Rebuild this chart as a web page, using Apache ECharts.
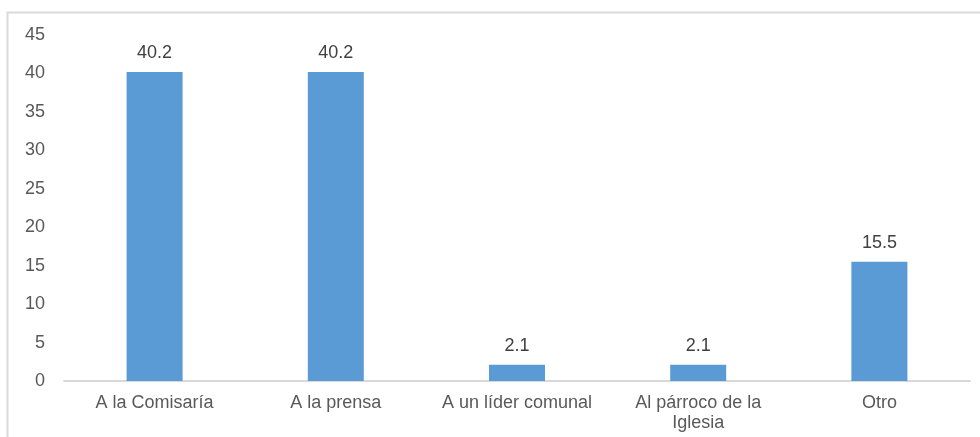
<!DOCTYPE html>
<html>
<head>
<meta charset="utf-8">
<script src="https://cdn.jsdelivr.net/npm/echarts@6/dist/echarts.min.js"></script>
<style>
  html, body { margin: 0; padding: 0; background: #fff; }
  #chart { width: 980px; height: 437px; }
</style>
</head>
<body>
<div id="chart"></div>
<script>
// datos del gráfico
const categories = ['A la Comisaría', 'A la prensa', 'A un líder comunal', 'Al párroco de la\nIglesia', 'Otro'];
const values = [40.2, 40.2, 2.1, 2.1, 15.5];
const yMin = 0;
const yMax = 45;
const yStep = 5;

const chart = echarts.init(document.getElementById('chart'));
const font = 'Liberation Sans, Arial, sans-serif';

const option = {
    animation: false,
    graphic: [
        {
            type: 'rect',
            shape: { x: 7.5, y: 12.5, width: 990, height: 450 },
            style: { fill: 'none', stroke: '#d9d9d9', lineWidth: 2 },
            silent: true
        }
    ],
    grid: {
        left: 64,
        right: 10,
        top: 35,
        bottom: 56
    },
    xAxis: {
        type: 'category',
        data: categories,
        axisLine: {
            show: true,
            lineStyle: { color: '#d9d9d9', width: 2 }
        },
        axisTick: { show: false },
        axisLabel: {
            interval: 0,
            margin: 12,
            color: '#595959',
            fontFamily: font,
            fontSize: 18,
            lineHeight: 20
        }
    },
    yAxis: {
        type: 'value',
        min: yMin,
        max: yMax,
        interval: yStep,
        axisLine: { show: false },
        axisTick: { show: false },
        splitLine: { show: false },
        axisLabel: {
            margin: 19,
            color: '#595959',
            fontFamily: font,
            fontSize: 18
        }
    },
    series: [
        {
            type: 'bar',
            data: values,
            barWidth: 56,
            itemStyle: { color: '#5b9bd5' },
            label: {
                show: true,
                position: 'top',
                distance: 10,
                color: '#404040',
                fontFamily: font,
                fontSize: 18,
                formatter: (p) => p.value.toFixed(1)
            }
        }
    ]
};

chart.setOption(option);
</script>
</body>
</html>
